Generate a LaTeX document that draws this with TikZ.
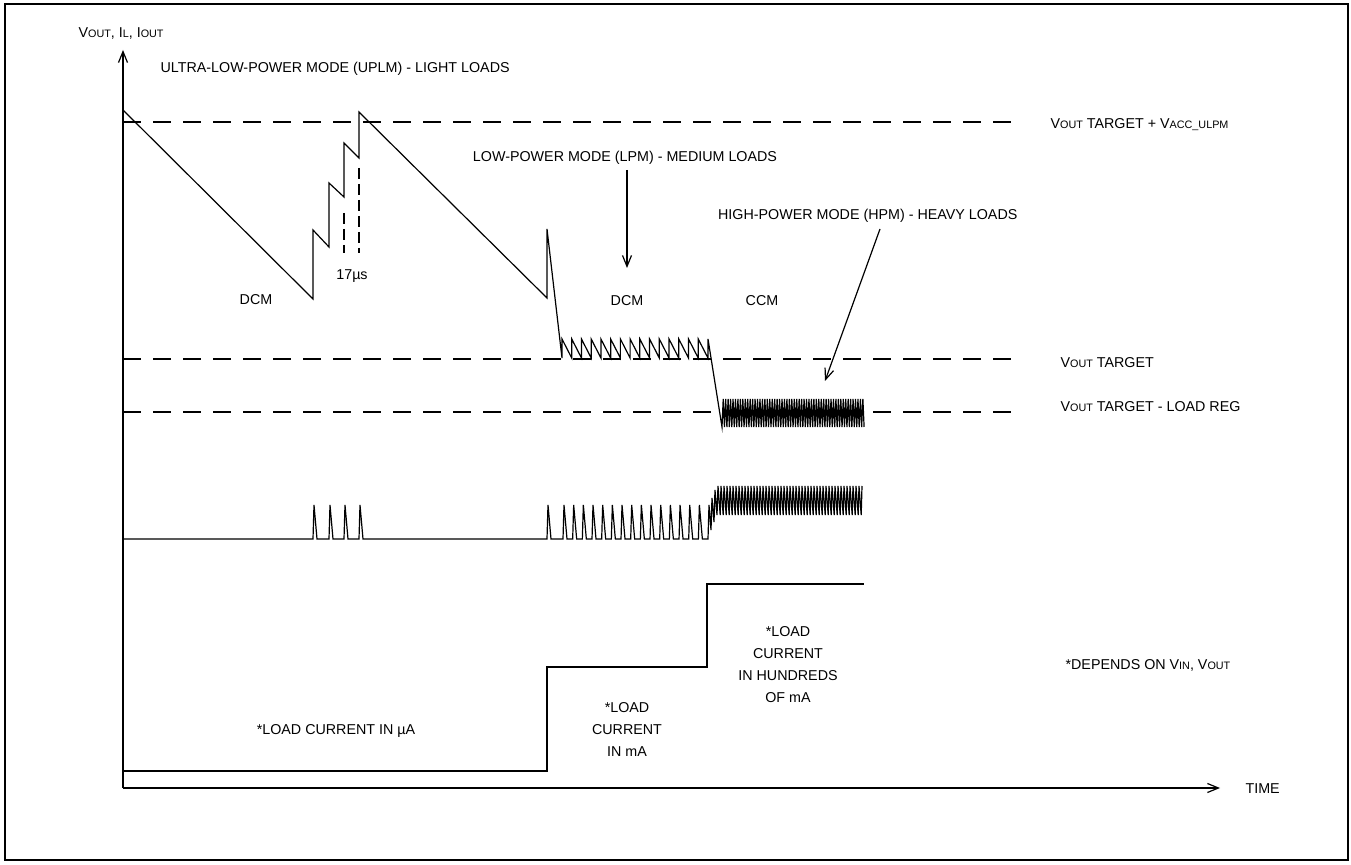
\documentclass[tikz,border=0pt]{standalone}
\usepackage{fontspec}
\setmainfont{Liberation Sans}
\usetikzlibrary{arrows.meta}
\newcommand{\sm}[1]{{\fontsize{5.4}{6}\selectfont #1}}
\begin{document}
\begin{tikzpicture}[x=0.5pt,y=-0.5pt, line width=0.6pt, line join=miter,
  lbl/.style={font=\fontsize{7.15}{8.6}\selectfont, inner sep=0pt, anchor=base},
  lblw/.style={lbl, anchor=base west},
  refline/.style={dash pattern=on 9pt off 6pt},
  tickline/.style={dash pattern=on 5.5pt off 2.5pt, line width=0.8pt},
  axarrow/.style={-{Straight Barb[length=5.5pt,width=4.5pt]}},
]
\useasboundingbox (0,0) rectangle (1351,865);
\draw[line width=1pt] (5,4.5) rectangle (1347.5,860);

% axes
\coordinate (O) at (123,788);
\coordinate (ytop) at (123,50);
\coordinate (xend) at (1220,788);
\draw[axarrow] (O) -- (ytop);
\draw[axarrow] (O) -- (xend);

% reference levels
\coordinate (r1a) at (123,122); \coordinate (r1b) at (1015,122);
\coordinate (r2a) at (123,359); \coordinate (r2b) at (1015,359);
\coordinate (r3a) at (123,412); \coordinate (r3b) at (1015,412);
\draw[refline] (r1a) -- (r1b);
\draw[refline] (r2a) -- (r2b);
\draw[refline] (r3a) -- (r3b);

% 17us markers
\coordinate (m1a) at (344,213); \coordinate (m1b) at (344,253);
\coordinate (m2a) at (359,168); \coordinate (m2b) at (359,253);
\draw[tickline] (m1a) -- (m1b);
\draw[tickline] (m2a) -- (m2b);

% VOUT waveform
\draw (123,110) -- (313,299) -- (313,230) -- (329,247) -- (329,183) -- (344,197)
  -- (344,143) -- (359,158) -- (359,112) -- (547,298) -- (547,229) -- (562,358)
  \foreach \i in {0,...,14} { -- ({562+\i*9.73},339) -- ({562+(\i+1)*9.73},358) }
  -- (708,339) -- (722,427)
  \foreach \i in {0,...,57} { -- ({722+\i*2.45+1.225},399) -- ({722+(\i+1)*2.45},427) };

% IL waveform
\draw (123,539) \foreach \x in {313,329,344,359} { -- (\x,539) -- ({\x+1},505) -- ({\x+4},539) }
  -- (547,539) -- (548,505) -- (551,539)
  \foreach \i in {0,...,14} { -- ({563+\i*9.67},539) -- ({564+\i*9.67},505) -- ({567+\i*9.67},539) }
  -- (708,539) -- (709,505) -- (711,530) -- (712,498) -- (714,522) -- (715,490) -- (717,515) -- (718,486)
  \foreach \i in {0,...,47} { -- ({718+\i*3+2.2},515) -- ({718+(\i+1)*3},486) };

% IOUT
\draw (123,771) -- (547,771) -- (547,667) -- (707,667) -- (707,584) -- (864,584);

% labels
\node[lblw] (ylab) at (78,38) {V\sm{OUT}, I\sm{L}, I\sm{OUT}};
\node[lblw] (uplm) at (160,73) {ULTRA-LOW-POWER MODE (UPLM) - LIGHT LOADS};
\node[lbl] (dcm1) at (256,305) {DCM};
\node[lbl] (t17) at (352,280) {17µs};
\node[lbl] (lpm) at (625,162) {LOW-POWER MODE (LPM) - MEDIUM LOADS};
\node[lbl] (dcm2) at (627,306) {DCM};
\node[lbl] (ccm) at (762,306) {CCM};
\node[lbl, anchor=base east] (hpm) at (1018,220) {HIGH-POWER MODE (HPM) - HEAVY LOADS};
\node[lblw] (vplus) at (1050,129) {V\sm{OUT} TARGET + V\sm{ACC\_ULPM}};
\node[lblw] (vt) at (1060,368) {V\sm{OUT} TARGET};
\node[lblw] (vreg) at (1060,412) {V\sm{OUT} TARGET - LOAD REG};
\node[lblw] (dep) at (1065,670) {*DEPENDS ON V\sm{IN}, V\sm{OUT}};
\node[lblw] (time) at (1245,794) {TIME};
\node[lbl] (lua) at (336,735) {*LOAD CURRENT IN µA};
\node[lbl] (lma1) at (627,713) {*LOAD};
\node[lbl] (lma2) at (627,735) {CURRENT};
\node[lbl] (lma3) at (627,757) {IN mA};
\node[lbl] (lh1) at (788,637) {*LOAD};
\node[lbl] (lh2) at (788,659) {CURRENT};
\node[lbl] (lh3) at (788,681) {IN HUNDREDS};
\node[lbl] (lh4) at (788,703) {OF mA};

% mode arrows
\coordinate (lpmA) at (627,170); \coordinate (lpmB) at (627,268);
\coordinate (hpmA) at (880,229); \coordinate (hpmB) at (825,381);
\draw[axarrow] (lpmA) -- (lpmB);
\draw[axarrow] (hpmA) -- (hpmB);
\end{tikzpicture}
\end{document}
